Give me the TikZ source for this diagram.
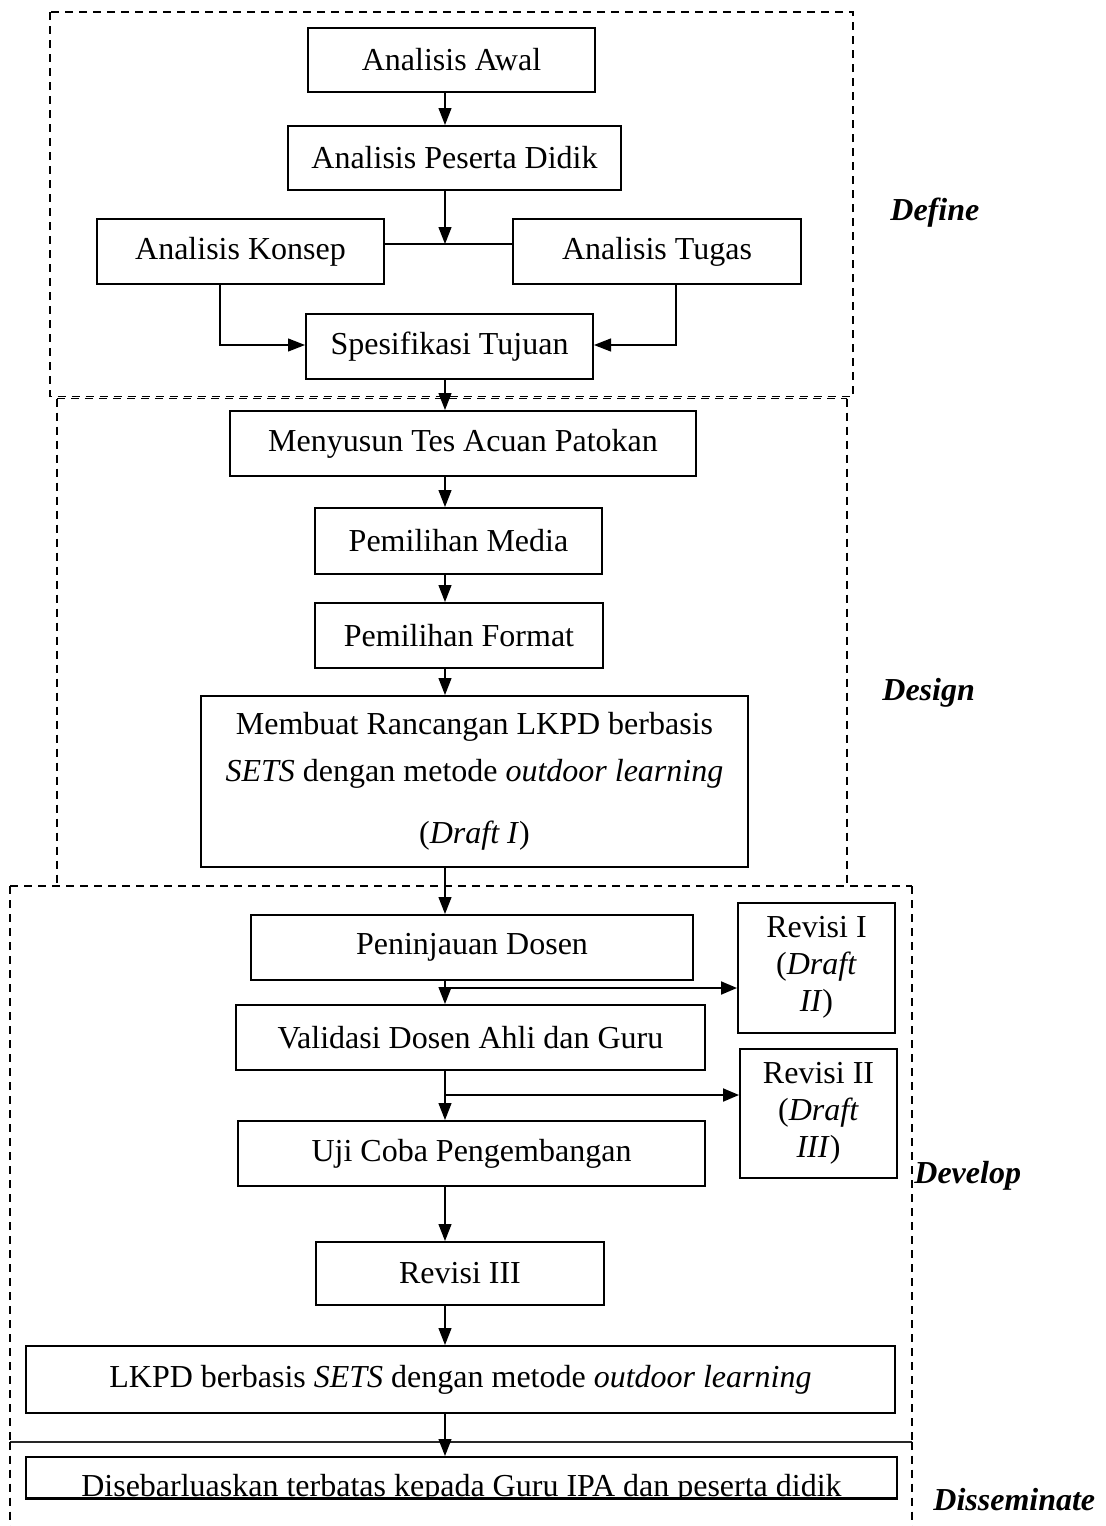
\documentclass[tikz,border=0pt]{standalone}
\usepackage{fontspec}
\setmainfont{Liberation Serif}
\usetikzlibrary{arrows.meta}
\begin{document}
\begin{tikzpicture}[x=0.5pt,y=-0.5pt,
  box/.style={draw,line width=1pt,rectangle,inner sep=0pt,align=center,
    font=\fontsize{16}{18.5}\selectfont},
  arr/.style={line width=0.6pt,-{Triangle[length=8.5pt,width=6.5pt]}},
  ln/.style={line width=0.6pt},
  brarr/.style={line width=1pt,-{Triangle[length=8pt,width=6.5pt]}},
  phase/.style={dashed,dash pattern=on 4pt off 3pt,line width=0.6pt},
  lbl/.style={anchor=base west,inner sep=0pt,font=\fontsize{16}{18.5}\selectfont\bfseries\itshape}]
\useasboundingbox (0,0) rectangle (1105,1526);
\coordinate (spine) at (445,0);
% phase frames
\draw[phase] (50,12) rectangle (853,396.5);
\draw[phase] (57,398.5) -- (847,398.5);
\draw[phase] (57,398.5) -- (57,886);
\draw[phase] (847,398.5) -- (847,886);
\draw[phase] (10,886) -- (912,886);
\draw[phase] (10,886) -- (10,1441.5);
\draw[phase] (912,886) -- (912,1441.5);
\draw[line width=1pt,black!85] (10,1441.5) -- (912,1441.5);
\draw[phase] (10,1441.5) -- (10,1526);
\draw[phase] (912,1441.5) -- (912,1526);
% labels
\node[lbl] (ldef) at (890,220) {Define};
\node[lbl] (ldes) at (882,700) {Design};
\node[lbl] (ldev) at (914,1183) {Develop};
\node[lbl] (ldis) at (933,1510) {Disseminate};
% boxes
\node[box,minimum width=143.5pt,minimum height=32pt] (awal) at (451.5,60) {Analisis Awal};
\node[box,minimum width=166.5pt,minimum height=32pt] (peserta) at (454.5,158) {Analisis Peserta Didik};
\node[box,minimum width=143.5pt,minimum height=32.5pt] (konsep) at (240.5,251.5) {Analisis Konsep};
\node[box,minimum width=144pt,minimum height=32.5pt] (tugas) at (657,251.5) {Analisis Tugas};
\node[box,minimum width=143.5pt,minimum height=32.5pt] (spes) at (449.5,346.5) {Spesifikasi Tujuan};
\node[box,minimum width=233pt,minimum height=32.5pt] (menyusun) at (463,443.5) {Menyusun Tes Acuan Patokan};
\node[box,minimum width=143.5pt,minimum height=33pt] (media) at (458.5,541) {Pemilihan Media};
\node[box,minimum width=144pt,minimum height=32.5pt] (format) at (459,635.5) {Pemilihan Format};
\node[box,minimum width=273.5pt,minimum height=85.5pt,font=\fontsize{16}{23.5}\selectfont] (membuat) at (474.5,781.5)
  {Membuat Rancangan LKPD berbasis\\\textit{SETS} dengan metode \textit{outdoor learning}\\[7.5pt](\textit{Draft I})};
\node[box,minimum width=221pt,minimum height=32.5pt] (peninjauan) at (472,947.5) {Peninjauan Dosen};
\node[box,minimum width=78.5pt,minimum height=65pt,text depth=4pt] (rev1) at (816.5,968) {Revisi I\\(\textit{Draft}\\\textit{II})};
\node[box,minimum width=234.5pt,minimum height=32.5pt] (validasi) at (470.5,1037.5) {Validasi Dosen Ahli dan Guru};
\node[box,minimum width=78.5pt,minimum height=64.5pt,text depth=4pt] (rev2) at (818.5,1113.5) {Revisi II\\(\textit{Draft}\\\textit{III})};
\node[box,minimum width=233.5pt,minimum height=32.5pt] (uji) at (471.5,1153.5) {Uji Coba Pengembangan};
\node[box,minimum width=144pt,minimum height=31.5pt] (rev3) at (460,1273.5) {Revisi III};
\node[box,minimum width=434.5pt,minimum height=33.5pt] (lkpd) at (460.5,1379.5) {LKPD berbasis \textit{SETS} dengan metode \textit{outdoor learning}};
\node[box,minimum width=435.5pt,minimum height=20.5pt] (dissem) at (461.5,1477.5) {};
\begin{scope}
  \clip (dissem.north west) rectangle (dissem.south east);
  \node[anchor=base,inner sep=0pt,font=\fontsize{16}{18.5}\selectfont] (dtext) at (461.5,1496)
    {Disebarluaskan terbatas kepada Guru IPA dan peserta didik};
\end{scope}
\draw[line width=1pt] (dissem.south west) -- (dissem.south east);
% connectors
\coordinate (junc) at (445,244);
\draw[arr] (awal.south -| spine) -- (peserta.north -| spine);
\draw[arr] (peserta.south -| spine) -- (junc);
\draw[ln] (konsep.east |- junc) -- (tugas.west |- junc);
\coordinate (kdrop) at (220,345);
\coordinate (tdrop) at (676,345);
\draw[arr] (konsep.south -| kdrop) -- (kdrop) -- (spes.west |- kdrop);
\draw[arr] (tugas.south -| tdrop) -- (tdrop) -- (spes.east |- tdrop);
\draw[arr] (spes.south -| spine) -- (menyusun.north -| spine);
\draw[arr] (menyusun.south -| spine) -- (media.north -| spine);
\draw[arr] (media.south -| spine) -- (format.north -| spine);
\draw[arr] (format.south -| spine) -- (membuat.north -| spine);
\draw[arr] (membuat.south -| spine) -- (peninjauan.north -| spine);
\draw[arr] (peninjauan.south -| spine) -- (validasi.north -| spine);
\draw[arr] (validasi.south -| spine) -- (uji.north -| spine);
\draw[arr] (uji.south -| spine) -- (rev3.north -| spine);
\draw[arr] (rev3.south -| spine) -- (lkpd.north -| spine);
\draw[arr] (lkpd.south -| spine) -- (dissem.north -| spine);
\coordinate (b1) at (445,988);
\coordinate (b2) at (445,1095);
\draw[brarr] (b1) -- (rev1.west |- b1);
\draw[brarr] (b2) -- (rev2.west |- b2);
\end{tikzpicture}
\end{document}
